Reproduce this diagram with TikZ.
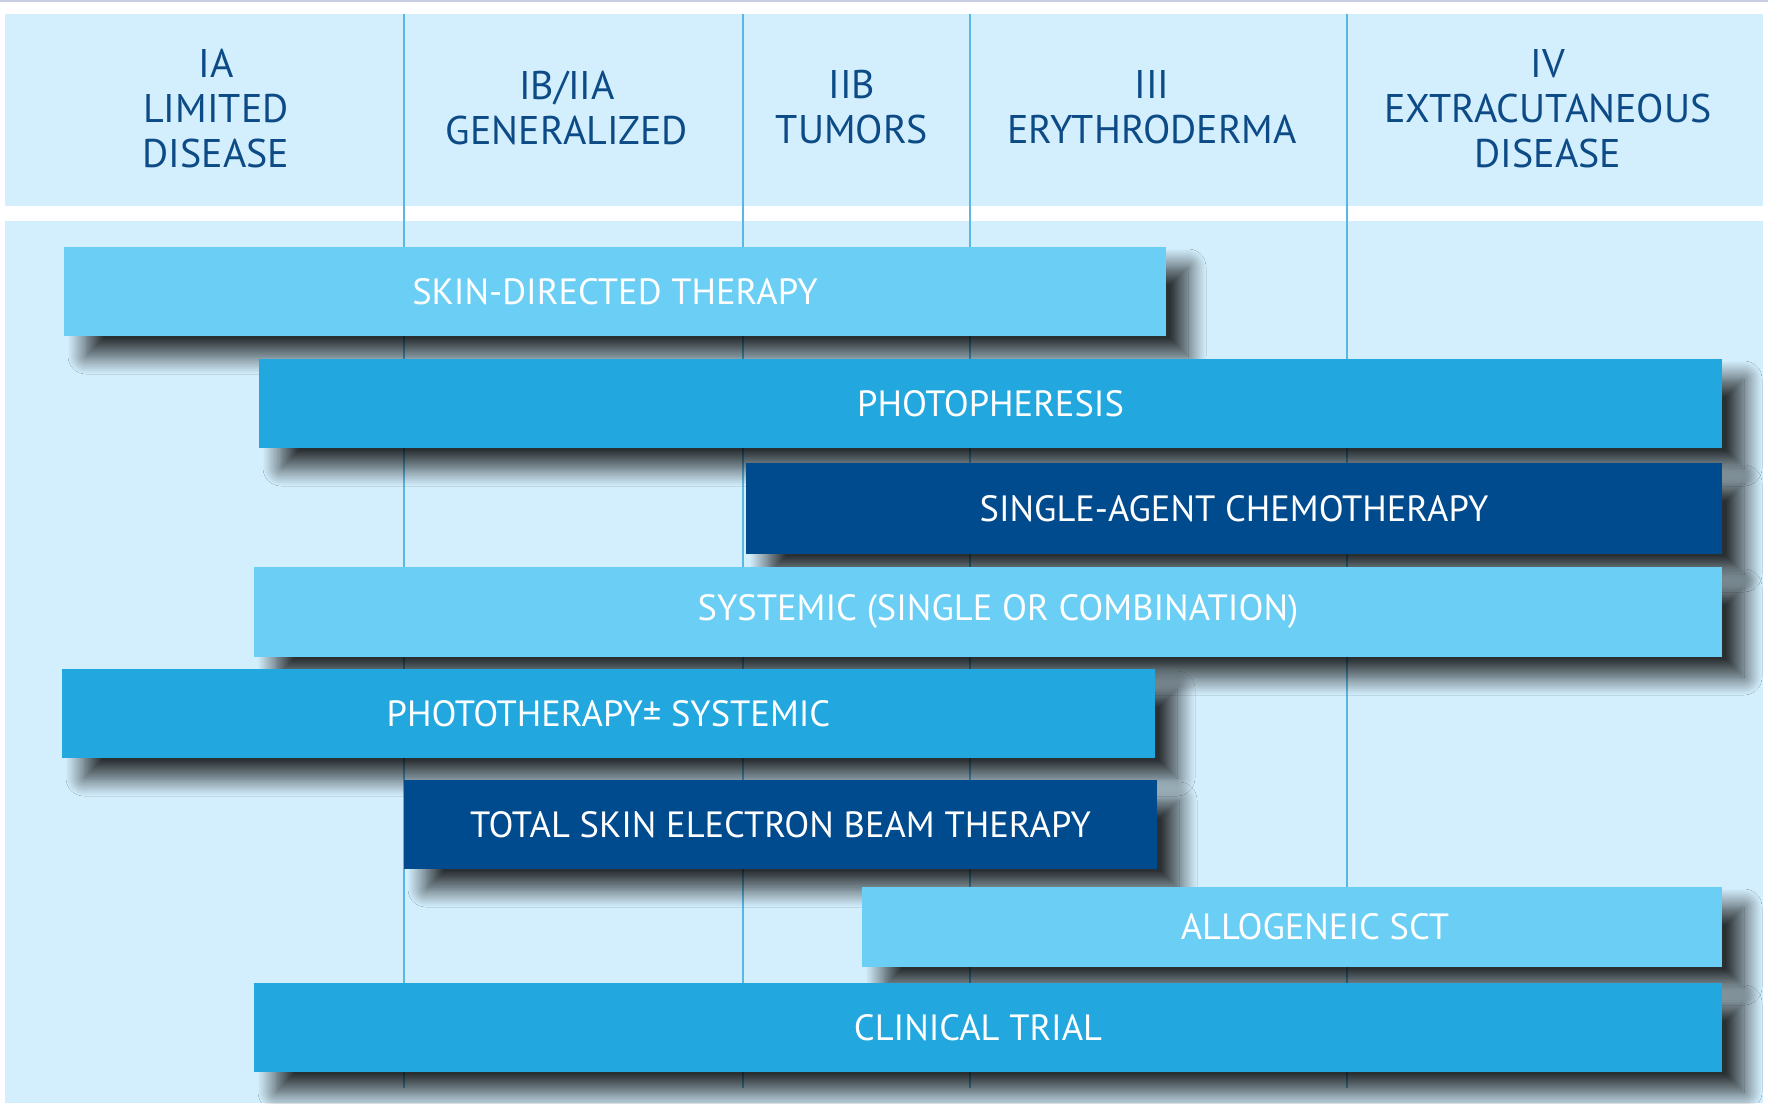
\documentclass[tikz,border=0pt]{standalone}
\usepackage{fontspec}
\setmainfont{PT Sans}
\usetikzlibrary{shadows.blur}
\definecolor{panelblue}{HTML}{D3EEFC}
\definecolor{topline}{HTML}{C9CDE3}
\definecolor{gridblue}{HTML}{5AB7E2}
\definecolor{stagetext}{HTML}{0D4B87}
\definecolor{barlight}{HTML}{6BCEF4}
\definecolor{barmid}{HTML}{22A7DF}
\definecolor{bardark}{HTML}{004A8E}

\begin{document}
\begin{tikzpicture}[x=1pt,y=-1pt,
stage/.style={align=center, text=stagetext, font=\fontsize{40}{45}\selectfont},
bar/.style={minimum height=89pt, inner sep=0pt, text=white,
  font=\fontsize{36.5}{40}\selectfont,
  blur shadow={shadow xshift=22pt, shadow yshift=-20pt, shadow blur radius=18pt,
    shadow blur steps=16, shadow opacity=80}},
lightbar/.style={bar, fill=barlight},
midbar/.style={bar, fill=barmid},
darkbar/.style={bar, fill=bardark}]
\useasboundingbox (0,0) rectangle (1768,1103);
\fill[white] (0,0) rectangle (1768,1103);
\fill[topline] (0,0) rectangle (1768,2);
\fill[panelblue] (5,14) rectangle (1763,206);
\fill[panelblue] (5,221) rectangle (1763,1103);
\foreach \x in {404,743,970,1347}
  \draw[gridblue, line width=2pt] (\x,14) -- (\x,1088);

% stages
\node[stage] (ia) at (216,109) {IA\\LIMITED\\DISEASE};
\node[stage] (ibiia) at (567,107.5) {IB/IIA\\GENERALIZED};
\node[stage] (iib) at (852,107.5) {IIB\\TUMORS};
\node[stage] (iii) at (1152,107.5) {III\\ERYTHRODERMA};
\node[stage] (iv) at (1548,109) {IV\\EXTRACUTANEOUS\\DISEASE};

% therapies
\node[lightbar, minimum width=1102pt] (skin) at (615,291.5) {SKIN-DIRECTED THERAPY};
\node[midbar, minimum width=1463pt] (photopheresis) at (990.5,403.5) {PHOTOPHERESIS};
\node[darkbar, minimum width=976pt, minimum height=91pt] (chemo) at (1234,508.5) {SINGLE-AGENT CHEMOTHERAPY};
\node[lightbar, minimum width=1468pt, minimum height=90pt] (systemic) at (988,612) {\hspace*{20pt}SYSTEMIC (SINGLE OR COMBINATION)};
\node[midbar, minimum width=1093pt] (phototherapy) at (608.5,713.5) {PHOTOTHERAPY± SYSTEMIC};
\node[darkbar, minimum width=753pt] (tsebt) at (780.5,824.5) {TOTAL SKIN ELECTRON BEAM THERAPY};
\node[lightbar, minimum width=860pt, minimum height=80pt] (allosct) at (1292,927) {\hspace*{46pt}ALLOGENEIC SCT};
\node[midbar, minimum width=1468pt] (trial) at (988,1027.5) {CLINICAL TRIAL\hspace*{20pt}};
\end{tikzpicture}
\end{document}
